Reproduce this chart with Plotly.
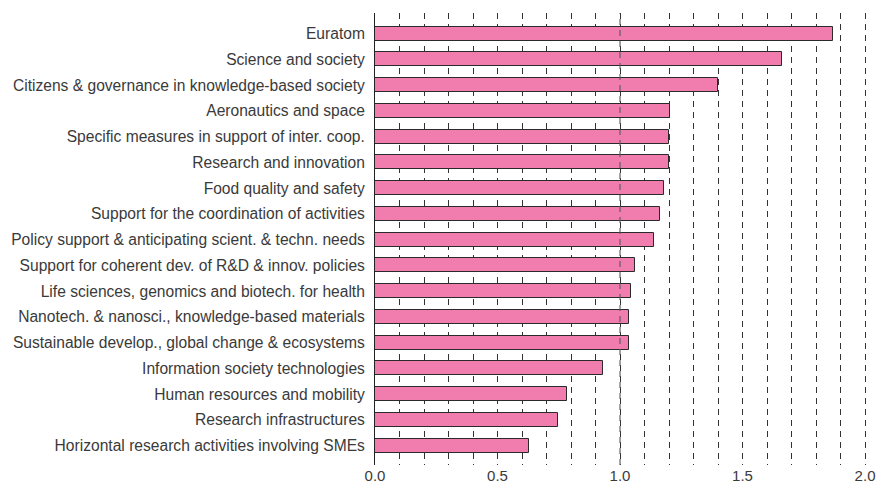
import plotly.graph_objects as go

categories = [
    "Euratom",
    "Science and society",
    "Citizens & governance in knowledge-based society",
    "Aeronautics and space",
    "Specific measures in support of inter. coop.",
    "Research and innovation",
    "Food quality and safety",
    "Support for the coordination of activities",
    "Policy support & anticipating scient. & techn. needs",
    "Support for coherent dev. of R&D & innov. policies",
    "Life sciences, genomics and biotech. for health",
    "Nanotech. & nanosci., knowledge-based materials",
    "Sustainable develop., global change & ecosystems",
    "Information society technologies",
    "Human resources and mobility",
    "Research infrastructures",
    "Horizontal research activities involving SMEs",
]
values = [1.868, 1.66, 1.40, 1.204, 1.201, 1.20, 1.18, 1.163, 1.14, 1.061,
          1.046, 1.037, 1.035, 0.931, 0.785, 0.748, 0.630]
x_ticks = [0.0, 0.5, 1.0, 1.5, 2.0]
x_tick_labels = ["0.0", "0.5", "1.0", "1.5", "2.0"]

fig = go.Figure()
fig.add_trace(go.Bar(
    x=values, y=list(range(len(categories))), orientation="h",
    width=0.54,
    marker=dict(color="#F07DAD", line=dict(color="#2a2a2a", width=1)),
    hoverinfo="x+text", text=categories, textposition="none",
))

fig.add_shape(type="line", xref="x", yref="paper", x0=1.0, x1=1.0, y0=0, y1=1,
              line=dict(color="rgba(90,90,90,0.75)", width=1.5, dash="6px,5px"),
              layer="above")

fig.update_layout(
    width=877, height=488,
    margin=dict(l=375, r=10, t=13, b=23),
    paper_bgcolor="white", plot_bgcolor="white",
    font=dict(family="Liberation Sans, Arial, sans-serif", size=15.6, color="#3a3a3a"),
    showlegend=False,
    bargap=0,
)
fig.update_xaxes(
    range=[0, 2.008], automargin=False,
    tickvals=x_ticks, ticktext=x_tick_labels,
    showgrid=True, gridcolor="#333", gridwidth=1, griddash="6px,5px",
    minor=dict(dtick=0.1, tick0=0, showgrid=True, gridcolor="#333",
               gridwidth=1, griddash="6px,5px"),
    zeroline=False, showline=False, ticks="",
    tickfont=dict(size=15, color="#3a3a3a"),
)
fig.update_yaxes(
    range=[16.75, -0.8], automargin=False,
    tickvals=list(range(len(categories))), ticktext=categories,
    showgrid=False, zeroline=False,
    showline=True, linecolor="#222", linewidth=1,
    ticks="", ticklabelstandoff=6,
    tickfont=dict(size=15.6, color="#3a3a3a"),
)

fig.write_html(
    "out.html",
    config={"displayModeBar": False, "responsive": False},
    post_script=(
        "document.documentElement.style.margin='0';"
        "document.documentElement.style.overflow='hidden';"
        "document.body.style.margin='0';"
        "document.body.style.overflow='hidden';"
    ),
)
